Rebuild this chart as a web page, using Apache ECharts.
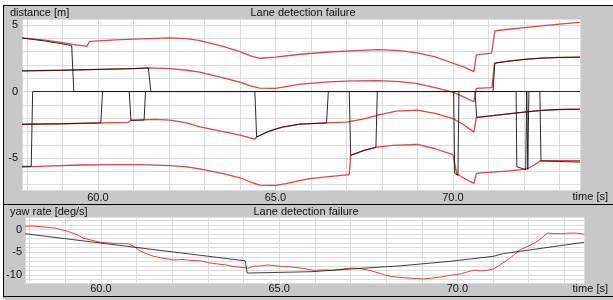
<!DOCTYPE html>
<html><head><meta charset="utf-8">
<script src="https://cdn.jsdelivr.net/npm/echarts@6/dist/echarts.min.js"></script>
<style>html,body{margin:0;padding:0;background:#fff}#c{width:613px;height:300px}</style>
</head><body><div id="c"></div>
<script>
// ---- axis ranges / tick labels ----
const timeRangeTop = [57.86, 73.58];
const timeRangeBottom = [57.87, 73.55];
const distRange = [-7.4, 5.45];
const yawRange = [-11.8, 2.8];
const timeTickLabels = [60, 65, 70];
const distTickLabels = [-5, 0, 5];
const yawTickLabels = [-10, -5, 0];

// ---- distance panel: reference lane lines (red) [time, m] ----
const refLane1 = [[57.86,4.03],[58.5,3.86],[59.0,3.68],[59.3,3.55],[59.69,3.4],[59.76,3.77],[60.5,3.88],[61.2,3.96],[62.03,4.03],[62.5,3.98],[62.87,3.82],[63.5,3.42],[64.0,3.0],[64.3,2.68],[64.56,2.5],[65.0,2.58],[65.7,2.8],[66.5,2.97],[67.1,3.05],[67.9,3.15],[68.5,3.08],[69.0,2.9],[69.5,2.6],[69.92,2.2],[70.3,1.85],[70.59,1.5],[70.66,2.75],[71.09,2.88],[71.18,4.55],[71.5,4.66],[72.0,4.8],[72.5,4.93],[73.0,5.06],[73.58,5.2]];
const refLane2 = [[57.86,1.55],[59.0,1.6],[60.0,1.66],[61.0,1.72],[61.45,1.77],[62.03,1.72],[62.5,1.6],[62.87,1.45],[63.5,1.05],[64.0,0.7],[64.3,0.42],[64.56,0.25],[65.0,0.24],[65.7,0.55],[66.5,0.72],[67.2,0.8],[67.9,0.82],[68.5,0.75],[69.0,0.6],[69.5,0.3],[70.0,-0.05],[70.3,-0.4],[70.59,-0.77],[70.66,0.24],[71.1,0.3],[71.17,2.12],[71.5,2.26],[72.0,2.41],[72.5,2.51],[73.0,2.56],[73.58,2.58]];
const refLane3 = [[57.86,-2.46],[59.0,-2.42],[60.08,-2.36],[60.85,-2.32],[60.92,-2.17],[61.3,-2.13],[61.6,-2.1],[62.03,-2.15],[62.5,-2.35],[62.87,-2.65],[63.5,-3.0],[64.0,-3.27],[64.42,-3.58],[64.47,-3.42],[64.6,-3.25],[64.76,-3.05],[65.0,-2.82],[65.2,-2.67],[65.69,-2.45],[66.45,-2.36],[67.0,-2.3],[67.5,-2.05],[67.89,-1.78],[68.4,-1.47],[68.99,-1.4],[69.5,-1.65],[70.0,-2.03],[70.3,-2.5],[70.59,-3.05],[70.66,-1.95],[71.0,-1.85],[71.5,-1.7],[72.0,-1.55],[72.5,-1.42],[73.0,-1.35],[73.58,-1.33]];
const refLane4 = [[57.86,-5.68],[58.5,-5.6],[59.5,-5.52],[60.5,-5.5],[61.2,-5.5],[62.03,-5.57],[62.5,-5.66],[62.87,-5.82],[63.5,-6.15],[64.0,-6.48],[64.3,-6.8],[64.56,-7.03],[65.0,-7.06],[65.3,-6.92],[65.7,-6.68],[65.97,-6.55],[66.5,-6.4],[67.08,-6.25],[67.12,-4.79],[67.5,-4.42],[67.85,-4.18],[68.3,-4.05],[68.99,-3.98],[69.5,-4.3],[70.0,-4.75],[70.11,-6.2],[70.3,-6.5],[70.59,-6.9],[70.66,-6.15],[71.0,-6.07],[71.69,-5.95],[72.08,-5.82],[72.3,-5.5],[72.48,-5.19],[73.0,-5.19],[73.58,-5.19]];

// ---- distance panel: detected lane lines (black), 0 = not detected ----
const detLane1 = [[57.86,4.02],[58.5,3.8],[59.0,3.58],[59.26,3.45],[59.32,0],[73.58,0]];
const detLane2 = [[57.86,1.55],[59.0,1.6],[60.0,1.66],[61.0,1.72],[61.42,1.77],[61.49,0],[71.13,0],[71.18,2.14],[71.5,2.26],[72.0,2.41],[72.5,2.51],[73.0,2.56],[73.58,2.58]];
const detLane3 = [[57.86,-2.46],[59.0,-2.42],[60.08,-2.36],[60.13,0],[60.88,0],[60.93,-2.16],[61.3,-2.14],[61.34,0],[64.42,0],[64.47,-3.42],[64.6,-3.25],[64.76,-3.05],[65.0,-2.82],[65.2,-2.67],[65.69,-2.45],[66.44,-2.36],[66.49,0],[70.62,0],[70.67,-1.95],[71.0,-1.85],[71.5,-1.7],[72.0,-1.55],[72.5,-1.42],[73.0,-1.35],[73.58,-1.33]];
const detLane4 = [[57.86,-5.62],[58.12,-5.62],[58.16,0],[67.08,0],[67.12,-4.79],[67.5,-4.42],[67.83,-4.2],[67.87,0],[70.02,0],[70.05,-6.15],[70.14,-6.3],[70.17,0],[71.78,0],[71.8,-5.65],[72.05,-5.87],[72.08,0],[72.11,-5.85],[72.14,0],[72.45,0],[72.48,-5.22],[73.0,-5.26],[73.58,-5.3]];

// ---- yaw rate panel [time, deg/s] ----
const yawModel = [[57.87,-0.9],[64.05,-6.9],[64.1,-9.6],[65.9,-9.3],[67.0,-8.7],[68.4,-8.0],[69.8,-7.0],[71.0,-5.9],[71.29,-5.3],[73.55,-2.8]];
const yawMeasured = [[57.87,0.75],[58.1,0.8],[58.4,0.6],[58.7,0.35],[59.08,-0.4],[59.36,-1.2],[59.5,-1.9],[59.72,-2.3],[60.0,-2.8],[60.28,-3.0],[60.5,-3.05],[60.76,-3.1],[60.92,-3.7],[61.12,-4.8],[61.3,-5.4],[61.48,-5.9],[61.8,-6.4],[62.04,-6.7],[62.3,-6.6],[62.5,-6.8],[62.8,-6.9],[63.0,-7.3],[63.28,-7.6],[63.5,-7.8],[63.73,-8.15],[63.9,-8.3],[64.12,-8.5],[64.29,-8.1],[64.5,-8.0],[64.68,-7.8],[64.9,-8.0],[65.13,-8.15],[65.4,-8.3],[65.6,-8.5],[65.97,-9.0],[66.25,-8.9],[66.53,-9.0],[66.8,-8.7],[67.0,-8.5],[67.25,-8.6],[67.48,-8.9],[67.8,-9.6],[68.04,-10.2],[68.3,-10.5],[68.6,-10.7],[68.85,-10.8],[69.05,-10.9],[69.3,-10.7],[69.52,-10.5],[69.8,-10.1],[70.08,-9.8],[70.3,-9.3],[70.45,-9.0],[70.65,-9.1],[70.84,-9.0],[71.01,-8.7],[71.2,-7.8],[71.4,-6.7],[71.6,-5.5],[71.76,-4.4],[72.0,-3.6],[72.24,-2.6],[72.4,-1.6],[72.52,-0.75],[72.7,-0.85],[72.89,-0.9],[73.05,-0.8],[73.25,-0.75],[73.4,-0.8],[73.56,-1.0]];

const FONT = 'Liberation Sans, Arial, sans-serif';
const RED = '#e04646';
const BLACK = 'rgba(20,20,20,0.9)';
const GRIDC = '#dcdcdc';

function fmtTime(v){ return timeTickLabels.some(t=>Math.abs(t-v)<1e-6) ? v.toFixed(1) : ''; }
function fmtDist(v){ return distTickLabels.some(t=>Math.abs(t-v)<1e-6) ? String(Math.round(v)) : ''; }
function fmtYaw(v){ return yawTickLabels.some(t=>Math.abs(t-v)<1e-6) ? String(Math.round(v)) : ''; }

function xAxisDef(gi, range, margin){
  return {gridIndex:gi, type:'value', min:range[0], max:range[1], minInterval:5, maxInterval:5,
    axisLine:{show:false}, axisTick:{show:false},
    axisLabel:{formatter:fmtTime, color:'#111', fontSize:11, fontFamily:FONT, margin:margin, showMinLabel:true, showMaxLabel:true},
    splitLine:{show:true, lineStyle:{color:GRIDC, width:1}},
    minorTick:{show:false, splitNumber:5},
    minorSplitLine:{show:true, lineStyle:{color:GRIDC, width:1}}};
}
function yAxisDef(gi, range, fmt, margin){
  return {gridIndex:gi, type:'value', min:range[0], max:range[1], minInterval:5, maxInterval:5,
    axisLine:{show:false}, axisTick:{show:false},
    axisLabel:{formatter:fmt, color:'#111', fontSize:11, fontFamily:FONT, margin:margin},
    splitLine:{show:true, lineStyle:{color:GRIDC, width:1}},
    minorTick:{show:false, splitNumber:5},
    minorSplitLine:{show:true, lineStyle:{color:GRIDC, width:1}}};
}
function line(name, data, color, width, xi, yi, z){
  return {name, type:'line', data, xAxisIndex:xi, yAxisIndex:yi, showSymbol:false, symbol:'none',
    lineStyle:{color, width}, itemStyle:{color}, z, clip:true, animation:false, silent:true};
}

const chart = echarts.init(document.getElementById('c'), null, {renderer:'canvas'});
chart.setOption({
  animation:false,
  backgroundColor:'#c8c8c8',
  textStyle:{fontFamily:FONT},
  grid:[
    {left:22, top:19, width:558, height:171, show:true, backgroundColor:'#ffffff', borderWidth:0, containLabel:false, outerBoundsMode:'none'},
    {left:25, top:217, width:559, height:66, show:true, backgroundColor:'#ffffff', borderWidth:0, containLabel:false, outerBoundsMode:'none'}
  ],
  xAxis:[xAxisDef(0, timeRangeTop, 2), xAxisDef(1, timeRangeBottom, 0)],
  yAxis:[yAxisDef(0, distRange, fmtDist, 4), yAxisDef(1, yawRange, fmtYaw, 3)],
  series:[
    line('ref1', refLane1, RED, 1.3, 0, 0, 2),
    line('ref2', refLane2, RED, 1.3, 0, 0, 2),
    line('ref3', refLane3, RED, 1.3, 0, 0, 2),
    line('ref4', refLane4, RED, 1.3, 0, 0, 2),
    line('det1', detLane1, BLACK, 1, 0, 0, 3),
    line('det2', detLane2, BLACK, 1, 0, 0, 3),
    line('det3', detLane3, BLACK, 1, 0, 0, 3),
    line('det4', detLane4, BLACK, 1, 0, 0, 3),
    line('yawModel', yawModel, 'rgba(30,30,30,0.85)', 1, 1, 1, 3),
    line('yawMeasured', yawMeasured, RED, 1, 1, 1, 2)
  ],
  graphic:[
    {type:'rect', shape:{x:0,y:0,width:613,height:5}, style:{fill:'#ffffff'}, silent:true},
    {type:'rect', shape:{x:0,y:0,width:3,height:300}, style:{fill:'#ffffff'}, silent:true},
    {type:'line', shape:{x1:3,y1:5.5,x2:613,y2:5.5}, style:{stroke:'#000',lineWidth:1}, silent:true},
    {type:'line', shape:{x1:3.5,y1:5,x2:3.5,y2:297}, style:{stroke:'#000',lineWidth:1}, silent:true},
    {type:'line', shape:{x1:3,y1:204.5,x2:613,y2:204.5}, style:{stroke:'#000',lineWidth:1}, silent:true},
    {type:'line', shape:{x1:3,y1:296.5,x2:613,y2:296.5}, style:{stroke:'#000',lineWidth:1}, silent:true},
    {type:'text', style:{x:10, y:12.5, text:'distance [m]', font:'11px '+FONT, fill:'#111', textAlign:'left', textVerticalAlign:'middle'}, silent:true},
    {type:'text', style:{x:303, y:12.5, text:'Lane detection failure', font:'11px '+FONT, fill:'#111', textAlign:'center', textVerticalAlign:'middle'}, silent:true},
    {type:'text', style:{x:608, y:197, text:'time [s]', font:'11px '+FONT, fill:'#111', textAlign:'right', textVerticalAlign:'middle'}, silent:true},
    {type:'text', style:{x:10, y:211.5, text:'yaw rate [deg/s]', font:'11px '+FONT, fill:'#111', textAlign:'left', textVerticalAlign:'middle'}, silent:true},
    {type:'text', style:{x:306, y:211.5, text:'Lane detection failure', font:'11px '+FONT, fill:'#111', textAlign:'center', textVerticalAlign:'middle'}, silent:true},
    {type:'text', style:{x:608, y:289, text:'time [s]', font:'11px '+FONT, fill:'#111', textAlign:'right', textVerticalAlign:'middle'}, silent:true}
  ]
});
</script>
</body></html>
